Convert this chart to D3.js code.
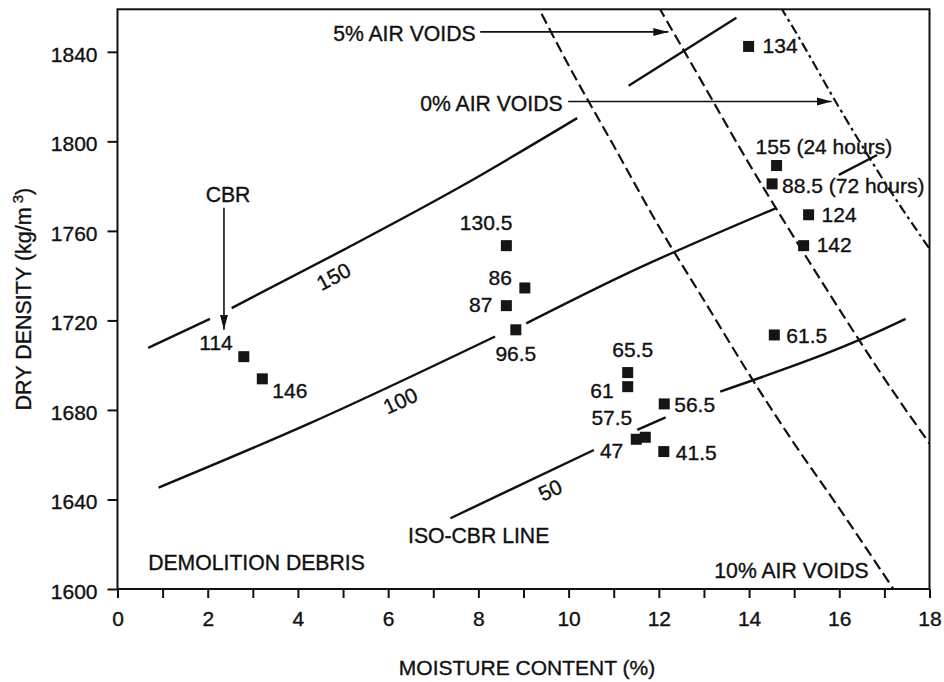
<!DOCTYPE html>
<html>
<head>
<meta charset="utf-8">
<script src="https://cdn.jsdelivr.net/npm/d3@7"></script>
<style>
  body { margin: 0; background: #fff; }
  text { font-family: "Liberation Sans", Arial, Helvetica, sans-serif; fill: #111; stroke: #111; stroke-width: 0.35px; }
</style>
</head>
<body>
<div id="chart"></div>
<script>
// data

const cbrLabels = ["114", "146", "130.5", "86", "87", "96.5", "65.5", "61", "57.5", "47",
    "56.5", "41.5", "61.5", "134", "155 (24 hours)", "88.5 (72 hours)", "124", "142"];
const moisture = [2.80, 3.21, 8.62, 9.03, 8.62, 8.83, 11.31, 11.31, 11.70, 11.50,
    12.12, 12.11, 14.56, 13.99, 14.61, 14.51, 15.32, 15.21];
const density = [1703.8, 1693.9, 1753.4, 1734.5, 1726.6, 1715.8, 1696.7, 1690.4, 1667.8, 1666.9,
    1682.7, 1661.4, 1713.5, 1842.4, 1789.2, 1781.0, 1767.2, 1753.4];

// iso-CBR lines, each one a list of segments
const cbr150 = [
    [[0.68, 1707.7], [2.05, 1720.7]],
    [[2.53, 1725.5], [5.01, 1751.5], [7.60, 1779.7], [10.19, 1810.4]]
];
const cbr100 = [
    [[0.91, 1645.3], [4.27, 1674.1], [8.37, 1712.8]],
    [[9.06, 1718.7], [11.15, 1739.6], [14.59, 1770.1]]
];
const cbr50 = [
    [[7.38, 1631.6], [10.56, 1662.1]],
    [[11.52, 1671.1], [12.15, 1676.7]],
    [[13.36, 1688.2], [16.95, 1715.8], [17.47, 1720.7]]
];
const cbrExtra = [
    [[11.33, 1824.8], [13.72, 1855.2]],
    [[15.99, 1785.0], [16.84, 1793.9]]
];

// air voids lines
const voids10 = [[9.4, 1857], [10, 1834], [11, 1798], [12, 1762], [13, 1729], [14, 1696], [15, 1665], [16, 1636], [17.2, 1600]];
const voids5 = [[12.0, 1860], [13, 1825], [14, 1790], [15, 1757], [16, 1725], [17, 1694], [18, 1665]];
const voids0 = [[14.7, 1860], [15, 1850], [16, 1815], [17, 1782], [18, 1752]];

// axis ticks
const yTicks = [1600, 1640, 1680, 1720, 1760, 1800, 1840];
const xTicks = d3.range(0, 19, 1);

// layout

const width = 944;
const height = 682;
const plotLeft = 117.5, plotRight = 929.5, plotTop = 9.3, plotBottom = 589;

// where each point label sits (pixels from the marker) and its anchor
const labelPlace = [
    [-11, -7, "end"], [10, 19, "start"], [6, -16, "end"], [-13, -3, "end"], [-14, 6, "end"],
    [0, 31, "middle"], [5, -16, "middle"], [-14, 11, "end"], [-13, -12, "end"], [-13, 19, "end"],
    [10, 8, "start"], [12, 8, "start"], [12, 8, "start"], [14, 7, "start"], [-21, -12, "start"],
    [10, 9, "start"], [13, 7, "start"], [13, 6, "start"]
];

const x = d3.scaleLinear().domain([0, 18]).range([plotLeft, plotRight]);
const y = d3.scaleLinear().domain([1600, 1859]).range([plotBottom, plotTop]);

const svg = d3.select('#chart').append('svg')
    .attr('width', width).attr('height', height);

const defs = svg.append('defs');
defs.append('clipPath').attr('id', 'plot')
    .append('rect')
    .attr('x', plotLeft).attr('y', plotTop)
    .attr('width', plotRight - plotLeft).attr('height', plotBottom - plotTop);

defs.append('marker')
    .attr('id', 'arrow')
    .attr('markerUnits', 'userSpaceOnUse')
    .attr('markerWidth', 16).attr('markerHeight', 10)
    .attr('refX', 15).attr('refY', 5)
    .attr('orient', 'auto')
    .append('path')
    .attr('d', 'M0,1 L15,5 L0,9 Z')
    .attr('fill', '#111');

// axes
const yAxis = d3.axisLeft(y).tickValues(yTicks).tickSize(10).tickSizeOuter(0).tickPadding(10)
    .tickFormat(d3.format('d'));
const xAxis = d3.axisBottom(x).tickValues(xTicks).tickSize(9).tickSizeOuter(0).tickPadding(13)
    .tickFormat(d => d % 2 === 0 ? d : '');

const gy = svg.append('g').attr('transform', `translate(${plotLeft},0)`).call(yAxis);
const gx = svg.append('g').attr('transform', `translate(0,${plotBottom})`).call(xAxis);
[gx, gy].forEach(g => {
    g.select('.domain').remove();
    g.selectAll('line').attr('stroke', '#111').attr('stroke-width', 2);
    g.selectAll('text').attr('font-size', 21).attr('fill', '#111')
        .attr('font-family', '"Liberation Sans", Arial, sans-serif');
});
gy.selectAll('text').attr('dy', '0.45em');

// frame
svg.append('rect')
    .attr('x', plotLeft).attr('y', plotTop)
    .attr('width', plotRight - plotLeft).attr('height', plotBottom - plotTop)
    .attr('fill', 'none').attr('stroke', '#111').attr('stroke-width', 2);

const plot = svg.append('g').attr('clip-path', 'url(#plot)');

const line = d3.line().x(d => x(d[0])).y(d => y(d[1])).curve(d3.curveMonotoneX);

// air voids
plot.append('path').attr('d', line(voids10))
    .attr('fill', 'none').attr('stroke', '#111').attr('stroke-width', 2.2)
    .attr('stroke-dasharray', '11,5');
plot.append('path').attr('d', line(voids5))
    .attr('fill', 'none').attr('stroke', '#111').attr('stroke-width', 2.2)
    .attr('stroke-dasharray', '11,5');
plot.append('path').attr('d', line(voids0))
    .attr('fill', 'none').attr('stroke', '#111').attr('stroke-width', 2.2)
    .attr('stroke-dasharray', '10,4,3,4');

// iso-CBR lines
[cbr150, cbr100, cbr50, cbrExtra].forEach(segs => {
    segs.forEach(seg => {
        plot.append('path').attr('d', line(seg))
            .attr('fill', 'none').attr('stroke', '#111').attr('stroke-width', 2.4);
    });
});

// iso line values
const isoText = [["150", 4.79, 1739.6, -28], ["100", 6.27, 1684.1, -25], ["50", 9.59, 1644.2, -25]];
isoText.forEach(([t, mx, dd, rot]) => {
    svg.append('text')
        .attr('transform', `translate(${x(mx)},${y(dd)}) rotate(${rot})`)
        .attr('text-anchor', 'middle').attr('dy', '0.35em')
        .attr('font-size', 21)
        .text(t);
});

// points
const points = moisture.map((m, i) => ({ m, d: density[i], label: cbrLabels[i], place: labelPlace[i] }));

svg.selectAll('.pt').data(points).enter().append('rect')
    .attr('class', 'pt')
    .attr('x', d => x(d.m) - 5.5).attr('y', d => y(d.d) - 5.5)
    .attr('width', 11).attr('height', 11)
    .attr('fill', '#151515');

svg.selectAll('.pt-label').data(points).enter().append('text')
    .attr('class', 'pt-label')
    .attr('x', d => x(d.m) + d.place[0])
    .attr('y', d => y(d.d) + d.place[1])
    .attr('text-anchor', d => d.place[2])
    .attr('font-size', 21)
    .text(d => d.label);

// annotations
const notes = [
    ["5% AIR VOIDS", 4.78, 1844.9],
    ["0% AIR VOIDS", 6.71, 1813.6],
    ["DEMOLITION DEBRIS", 0.68, 1608.5],
    ["ISO-CBR LINE", 6.44, 1620.6],
    ["10% AIR VOIDS", 13.23, 1604.8]
];
notes.forEach(([t, mx, dd]) => {
    svg.append('text').attr('x', x(mx)).attr('y', y(dd))
        .attr('font-size', 21.2).text(t);
});
svg.append('text').attr('x', x(2.45)).attr('y', y(1773.0))
    .attr('text-anchor', 'middle').attr('font-size', 21.2).text('CBR');

const arrows = [
    [[8.04, 1848.9], [12.21, 1848.9]],
    [[9.99, 1817.8], [15.83, 1817.8]],
    [[2.36, 1770.3], [2.36, 1715.8]]
];
arrows.forEach(a => {
    svg.append('line')
        .attr('x1', x(a[0][0])).attr('y1', y(a[0][1]))
        .attr('x2', x(a[1][0])).attr('y2', y(a[1][1]))
        .attr('stroke', '#111').attr('stroke-width', 1.6)
        .attr('marker-end', 'url(#arrow)');
});

// axis titles
svg.append('text')
    .attr('x', 527).attr('y', 675)
    .attr('text-anchor', 'middle').attr('font-size', 21)
    .text('MOISTURE CONTENT (%)');

const yTitle = svg.append('text')
    .attr('transform', `translate(31,${(plotTop + plotBottom) / 2}) rotate(-90)`)
    .attr('text-anchor', 'middle').attr('font-size', 21.5);
yTitle.append('tspan').text('DRY DENSITY (kg/m');
yTitle.append('tspan').attr('dx', 4).attr('dy', -8).attr('font-size', 15).text('3');
yTitle.append('tspan').attr('dy', 8).text(')');
</script>
</body>
</html>
